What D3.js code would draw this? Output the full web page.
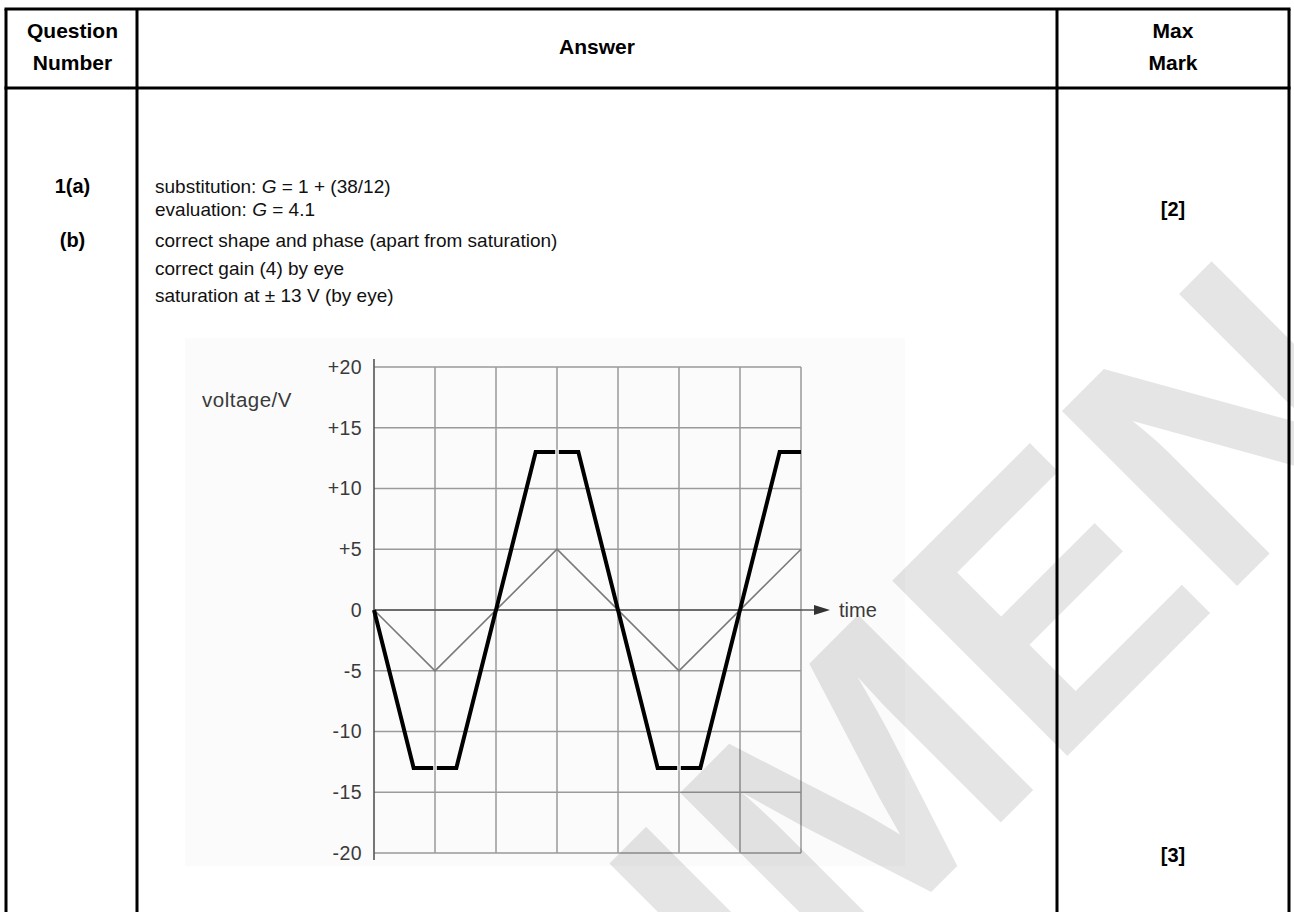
<!DOCTYPE html>
<html>
<head>
<meta charset="utf-8">
<script src="https://cdn.jsdelivr.net/npm/d3@7"></script>
<style>
  html, body { margin: 0; padding: 0; background: #fff; }
  svg { display: block; }
  text { font-family: "Liberation Sans", Arial, Helvetica, sans-serif; }
</style>
</head>
<body>
<svg id="page" width="1294" height="912"></svg>
<script>
// ---- mark-scheme table contents ----
const headerCells = [["Question", "Number"], ["Answer"], ["Max", "Mark"]];
const questionLabels = ["1(a)", "(b)"];
const answerLinesA = [
  [{t: "substitution: "}, {t: "G", i: true}, {t: " = 1 + (38/12)"}],
  [{t: "evaluation: "}, {t: "G", i: true}, {t: " = 4.1"}]
];
const answerLinesB = [
  [{t: "correct shape and phase (apart from saturation)"}],
  [{t: "correct gain (4) by eye"}],
  [{t: "saturation at \u00b1 13 V (by eye)"}]
];
const maxMarks = ["[2]", "[3]"];

// ---- graph data ----
const voltageTicks = [20, 15, 10, 5, 0, -5, -10, -15, -20];
const voltageTickLabels = ["+20", "+15", "+10", "+5", "0", "-5", "-10", "-15", "-20"];
const timeDivisions = [0, 1, 2, 3, 4, 5, 6, 7];
// input triangle wave (thin line)
const inputTime = [0, 1, 3, 5, 7];
const inputVolts = [0, -5, 5, -5, 5];
// amplified output, saturating at +/-13 V (thick line)
const outputTime = [0, 0.65, 1.35, 2.65, 3.35, 4.65, 5.35, 6.65, 7];
const outputVolts = [0, -13, -13, 13, 13, -13, -13, 13, 13];

const svg = d3.select("#page");

// table geometry
const colX = [6, 137, 1057, 1289];
const tableTop = 9, headerBottom = 88, tableBottom = 912;

const table = svg.append("g").attr("class", "table");
const colCenters = [(colX[0] + colX[1]) / 2 + 1, (colX[1] + colX[2]) / 2, (colX[2] + colX[3]) / 2];

// header text
headerCells.forEach((lines, c) => {
  const baseY = lines.length === 2 ? [38, 70] : [54];
  lines.forEach((ln, k) => {
    table.append("text")
      .attr("x", colCenters[c]).attr("y", baseY[k])
      .attr("text-anchor", "middle")
      .attr("font-size", 21).attr("font-weight", "bold")
      .text(ln);
  });
});

// question numbers
const qY = [193, 247];
questionLabels.forEach((q, i) => {
  table.append("text").attr("x", colCenters[0]).attr("y", qY[i])
    .attr("text-anchor", "middle").attr("font-size", 20).attr("font-weight", "bold").text(q);
});

// answer lines
function answerLine(parts, y) {
  const t = table.append("text").attr("x", 155).attr("y", y).attr("font-size", 19).attr("fill", "#111");
  parts.forEach(p => {
    const s = t.append("tspan").text(p.t);
    if (p.i) s.attr("font-style", "italic");
  });
}
const aY = [193, 216];
answerLinesA.forEach((l, i) => answerLine(l, aY[i]));
const bY = [247, 275, 302];
answerLinesB.forEach((l, i) => answerLine(l, bY[i]));

// max marks
const mY = [216, 862];
maxMarks.forEach((m, i) => {
  table.append("text").attr("x", colCenters[2]).attr("y", mY[i])
    .attr("text-anchor", "middle").attr("font-size", 20).attr("font-weight", "bold").text(m);
});

// ---- the graph ----
const g = svg.append("g").attr("class", "graph");
const panelFill = "#fbfbfb";
g.append("rect").attr("x", 185).attr("y", 338).attr("width", 720).attr("height", 528).attr("fill", panelFill);

const x = d3.scaleLinear().domain([0, 7]).range([374, 801]);
const y = d3.scaleLinear().domain([-20, 20]).range([853, 367]);
const gridColor = "#9a9a9a";

// grid
g.append("g").selectAll("line").data(voltageTicks).join("line")
  .attr("x1", x(0)).attr("x2", x(7))
  .attr("y1", d => y(d)).attr("y2", d => y(d))
  .attr("stroke", gridColor).attr("stroke-width", 1.5);
g.append("g").selectAll("line").data(timeDivisions.slice(1)).join("line")
  .attr("x1", d => x(d)).attr("x2", d => x(d))
  .attr("y1", y(20)).attr("y2", y(-20))
  .attr("stroke", gridColor).attr("stroke-width", 1.5);

// voltage axis
const yAxis = d3.axisLeft(y).tickValues(voltageTicks)
  .tickFormat((d, i) => voltageTickLabels[i]).tickSize(0).tickPadding(12);
const ya = g.append("g").attr("transform", `translate(${x(0)},0)`).call(yAxis);
ya.select(".domain").attr("d", `M0,${y(20) - 8}V${y(-20) + 7}`).attr("stroke", "#555").attr("stroke-width", 1.6);
ya.selectAll(".tick text").attr("font-size", 19.5).attr("fill", "#3a3a3a")
  .attr("letter-spacing", 0.4)
  .attr("font-family", "'Liberation Sans', Arial, sans-serif");

g.append("text").attr("x", 202).attr("y", 407).attr("font-size", 20.5).attr("letter-spacing", 0.5)
  .attr("fill", "#3a3a3a").text("voltage/V");

// time axis with arrow
g.append("line").attr("x1", x(0)).attr("x2", x(7) + 16)
  .attr("y1", y(0)).attr("y2", y(0)).attr("stroke", "#555").attr("stroke-width", 1.6);
g.append("path")
  .attr("d", `M${x(7) + 13},${y(0) - 5}L${x(7) + 29},${y(0)}L${x(7) + 13},${y(0) + 5}Z`)
  .attr("fill", "#333");
g.append("text").attr("x", x(7) + 38).attr("y", y(0) + 7).attr("font-size", 20).attr("fill", "#3a3a3a").text("time");

const line = d3.line().x(d => x(d[0])).y(d => y(d[1]));
g.append("path").datum(d3.zip(inputTime, inputVolts))
  .attr("d", line).attr("fill", "none").attr("stroke", "#7a7a7a").attr("stroke-width", 1.6);
g.append("path").datum(d3.zip(outputTime, outputVolts))
  .attr("d", line).attr("fill", "none").attr("stroke", "#000").attr("stroke-width", 4)
  .attr("stroke-linejoin", "miter");

// the pen lifts where the saturated plateaus cross a grid division
const plateauGaps = [];
for (let i = 0; i < outputTime.length - 1; i++) {
  if (outputVolts[i] === outputVolts[i + 1]) {
    timeDivisions.forEach(t => {
      if (t > outputTime[i] && t < outputTime[i + 1]) plateauGaps.push([t, outputVolts[i]]);
    });
  }
}
const gaps = g.append("g").selectAll("g").data(plateauGaps).join("g");
gaps.append("rect").attr("x", d => x(d[0]) - 1.8).attr("y", d => y(d[1]) - 3)
  .attr("width", 3.6).attr("height", 6).attr("fill", panelFill);
gaps.append("line").attr("x1", d => x(d[0])).attr("x2", d => x(d[0]))
  .attr("y1", d => y(d[1]) - 3).attr("y2", d => y(d[1]) + 3)
  .attr("stroke", gridColor).attr("stroke-width", 1.2);

// table rules
const rule = (x1, y1, x2, y2) => svg.append("line").attr("x1", x1).attr("y1", y1).attr("x2", x2).attr("y2", y2)
  .attr("stroke", "#000").attr("stroke-width", 3);
rule(colX[0] - 1.5, tableTop, colX[3] + 1.5, tableTop);
rule(colX[0] - 1.5, headerBottom, colX[3] + 1.5, headerBottom);
colX.forEach(cx => rule(cx, tableTop, cx, tableBottom));

// watermark
svg.append("text")
  .attr("transform", "translate(650,995) rotate(-45)")
  .attr("text-anchor", "middle").attr("dy", "0.35em")
  .attr("font-size", 360).attr("font-weight", "bold")
  .attr("fill", "#000").attr("fill-opacity", 0.1)
  .text("SPECIMEN");
</script>
</body>
</html>
